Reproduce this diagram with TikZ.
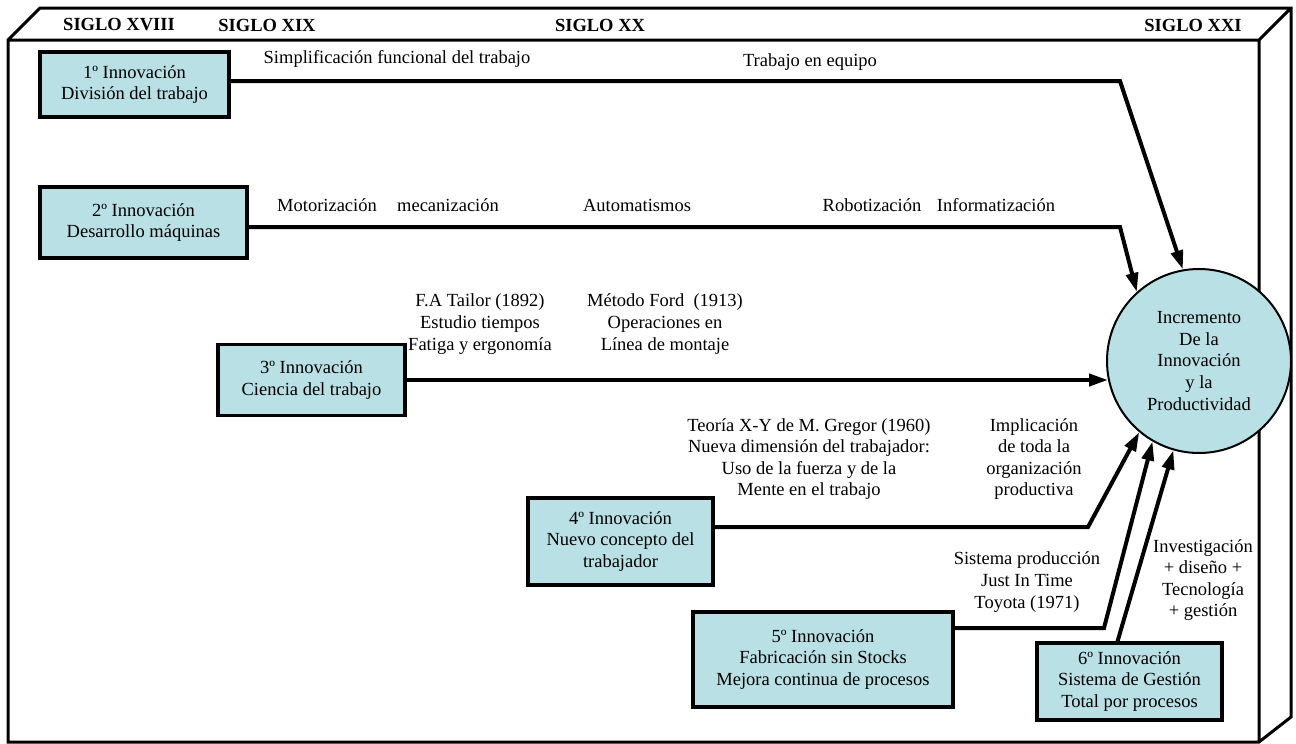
\documentclass[tikz,border=0pt]{standalone}
\usepackage{fontspec}
\setmainfont{Liberation Serif}
\usetikzlibrary{arrows.meta}
\definecolor{innfill}{RGB}{185,224,228}
\tikzset{
  inn/.style={draw, fill=innfill, line width=1.6pt, align=center, inner sep=0pt},
  lbl/.style={align=center, inner sep=0pt},
  siglo/.style={font=\fontsize{9.25pt}{10.8pt}\selectfont\bfseries, inner sep=0pt},
  conn/.style={line width=2pt, -{Triangle[length=9.5pt,width=6pt]}},
}
\begin{document}
\begin{tikzpicture}[x=0.5pt, y=-0.5pt, font=\fontsize{9.25pt}{10.8pt}\selectfont]
  \useasboundingbox (0,0) rectangle (1296,744);
  % marco en perspectiva
  \draw[line width=1.5pt]
    (8,40) -- (40,8) -- (1291,8) -- (1291,717) -- (1259,742) -- (8,742) -- cycle
    (8,40) -- (1259,40) -- (1291,8)
    (1259,40) -- (1259,742);
  \node[siglo] (s18) at (119,25) {SIGLO XVIII};
  \node[siglo] (s19) at (267,25) {SIGLO XIX};
  \node[siglo] (s20) at (600,25) {SIGLO XX};
  \node[siglo] (s21) at (1193,25) {SIGLO XXI};
  % innovaciones
  \node[inn, minimum width=94.5pt, minimum height=32.5pt] (inn1) at (134.5,84.5) {1º Innovación\\División del trabajo};
  \node[inn, minimum width=103.5pt, minimum height=35.5pt] (inn2) at (143.5,222.5) {2º Innovación\\Desarrollo máquinas};
  \node[inn, minimum width=93.5pt, minimum height=35.5pt] (inn3) at (311.5,380) {3º Innovación\\Ciencia del trabajo};
  \node[inn, minimum width=92.5pt, minimum height=43.5pt] (inn4) at (620.5,541.5) {4º Innovación\\Nuevo concepto del\\trabajador};
  \node[inn, minimum width=130pt, minimum height=47.5pt] (inn5) at (823,659.5) {5º Innovación\\Fabricación sin Stocks\\Mejora continua de procesos};
  \node[inn, minimum width=92.5pt, minimum height=38.5pt] (inn6) at (1129.5,681.5) {6º Innovación\\Sistema de Gestión\\Total por procesos};
  \node[circle, draw, fill=innfill, line width=1pt, minimum size=92pt, align=center, inner sep=0pt] (incr) at (1199,361)
    {Incremento\\De la\\Innovación\\y la\\Productividad};
  % textos
  \node[lbl] (simp) at (397,59) {Simplificación funcional del trabajo};
  \node[lbl] (equipo) at (810,62) {Trabajo en equipo};
  \node[lbl] (motor) at (327,205) {Motorización};
  \node[lbl] (mecan) at (448,205) {mecanización};
  \node[lbl] (autom) at (637,205) {Automatismos};
  \node[lbl] (robot) at (872,205) {Robotización};
  \node[lbl] (inform) at (996,205) {Informatización};
  \node[lbl] (tailor) at (480,324) {F.A Tailor (1892)\\Estudio tiempos\\Fatiga y ergonomía};
  \node[lbl] (ford) at (665,324) {Método Ford\ \ (1913)\\Operaciones en\\Línea de montaje};
  \node[lbl] (gregor) at (809,459) {Teoría X-Y de M. Gregor (1960)\\Nueva dimensión del trabajador:\\Uso de la fuerza y de la\\Mente en el trabajo};
  \node[lbl] (implic) at (1034,459) {Implicación\\de toda la\\organización\\productiva};
  \node[lbl] (jit) at (1027,582) {Sistema producción\\Just In Time\\Toyota (1971)};
  \node[lbl] (invest) at (1203,580) {Investigación\\+ diseño +\\Tecnología\\+ gestión};
  % conexiones
  \coordinate (k1) at (1120,81);
  \coordinate (k2) at (1120,227);
  \coordinate (k4) at (1088,527);
  \coordinate (k5) at (1104,628);
  \begin{scope}[conn]
    \draw (inn1.east |- k1) -- (k1) -- (incr.100);
    \draw (inn2.east |- k2) -- (k2) -- (incr.132);
    \draw (inn3.east) -- (inn3.east -| incr.192);
    \draw (inn4.east |- k4) -- (k4) -- (incr.230);
    \draw (inn5.east |- k5) -- (k5) -- (incr.240);
    \draw (inn6.north) ++(-12,0) -- (incr.254);
  \end{scope}
\end{tikzpicture}
\end{document}
